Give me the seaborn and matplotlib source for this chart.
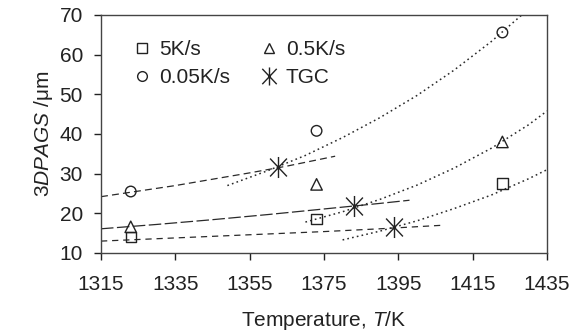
import matplotlib
matplotlib.use("Agg")
import matplotlib.pyplot as plt
from matplotlib.path import Path
from matplotlib.lines import Line2D
import seaborn as sns
import pandas as pd

# ---- data ----
T_exp = [1323, 1373, 1423]
size_5 = [14.0, 18.6, 27.5]
size_05 = [16.6, 27.3, 38.0]
size_005 = [25.5, 40.8, 65.6]
T_tgc = [1362.5, 1383.2, 1393.8]
size_tgc = [31.6, 21.8, 16.5]

# fitted trend lines
dash_005_T = [1315, 1325, 1335, 1345, 1355, 1365, 1378]
dash_005_y = [24.2, 25.6, 27.0, 28.6, 30.2, 31.9, 34.4]
dot_005_T = [1349, 1360, 1370, 1380, 1390, 1400, 1410, 1420, 1428.2]
dot_005_y = [27.0, 30.8, 34.6, 39.1, 44.1, 49.7, 56.1, 63.3, 70.0]

dash_05_T = [1315, 1330, 1345, 1360, 1375, 1390, 1398]
dash_05_y = [16.1, 17.2, 18.4, 19.7, 21.1, 22.5, 23.3]
dot_05_T = [1370, 1380, 1390, 1400, 1410, 1420, 1430, 1435]
dot_05_y = [17.8, 20.4, 23.5, 27.1, 31.4, 36.4, 42.3, 45.8]

dash_5_T = [1315, 1330, 1345, 1360, 1375, 1390, 1407]
dash_5_y = [13.0, 13.6, 14.2, 14.8, 15.4, 16.1, 17.0]
dot_5_T = [1380, 1390, 1400, 1410, 1420, 1430, 1435]
dot_5_y = [13.3, 15.5, 18.1, 21.2, 24.6, 28.7, 31.0]

labels = ["5K/s", "0.05K/s", "0.5K/s", "TGC"]
x_ticks = [1315, 1335, 1355, 1375, 1395, 1415, 1435]
y_ticks = [10, 20, 30, 40, 50, 60, 70]

# ---- style ----
sns.set_theme(style="ticks")
plt.rcParams["font.family"] = ["Liberation Sans", "DejaVu Sans"]
plt.rcParams["mathtext.fontset"] = "custom"
plt.rcParams["mathtext.it"] = "Liberation Sans:italic"
plt.rcParams["mathtext.rm"] = "Liberation Sans"
plt.rcParams["lines.scale_dashes"] = False

ink = "#222222"
line_c = "#2a2a2a"
fs = 15

fig = plt.figure(figsize=(5.8, 3.36), dpi=100)
ax = fig.add_axes([101 / 580, 1 - 253 / 336, 446 / 580, 238 / 336])

lw = 0.9
dot_style = (0, (1.2, 2.3))
curves = [
    (dash_005_T, dash_005_y, (0, (5.0, 3.0)), lw),
    (dot_005_T, dot_005_y, dot_style, 1.1),
    (dash_05_T, dash_05_y, (0, (9.0, 2.5)), lw),
    (dot_05_T, dot_05_y, dot_style, 1.1),
    (dash_5_T, dash_5_y, (0, (4.5, 3.5)), lw),
    (dot_5_T, dot_5_y, dot_style, 1.1),
]
for xs, ys, ls, w in curves:
    sns.lineplot(x=xs, y=ys, ax=ax, color=line_c, lw=w, linestyle=ls,
                 sort=False, estimator=None, legend=False)

star = Path([(0, -1), (0, 1), (-0.8, -0.85), (0.8, 0.85), (-0.8, 0.85), (0.8, -0.85)],
            [Path.MOVETO, Path.LINETO, Path.MOVETO, Path.LINETO, Path.MOVETO, Path.LINETO])

def pts(x, y, marker, s):
    sns.scatterplot(x=x, y=y, ax=ax, marker=marker, s=s,
                    facecolor="none", edgecolor=ink, linewidth=1.0,
                    legend=False, zorder=5)

pts(T_exp, size_5, "s", 55)
pts(T_exp, size_05, "^", 68)
pts(T_exp, size_005, "o", 58)
sns.scatterplot(x=T_tgc, y=size_tgc, ax=ax, marker=star, s=230, color=ink,
                edgecolor=ink, linewidth=1.0, legend=False, zorder=5)

ax.set_xlim(1315, 1435)
ax.set_ylim(10, 70)
ax.set_xticks(x_ticks)
ax.set_yticks(y_ticks)
ax.tick_params(axis="both", direction="out", length=5, width=1, color=ink,
               labelsize=fs, labelcolor=ink)
ax.tick_params(axis="x", pad=11)
ax.tick_params(axis="y", pad=8)
for sp in ax.spines.values():
    sp.set_visible(True)
    sp.set_color("#444444")
    sp.set_linewidth(1.0)

ax.set_xlabel("Temperature, $\\mathit{T}$/K", fontsize=fs, color=ink, labelpad=11)
ax.set_ylabel("$\\mathit{3DPAGS}$ /μm", fontsize=fs, color=ink, labelpad=3)

handles = [
    Line2D([], [], marker="s", ls="none", mfc="none", mec=ink, ms=7, mew=1.0),
    Line2D([], [], marker="o", ls="none", mfc="none", mec=ink, ms=7, mew=1.0),
    Line2D([], [], marker="^", ls="none", mfc="none", mec=ink, ms=7.5, mew=1.0),
    Line2D([], [], marker=star, ls="none", mfc=ink, mec=ink, ms=13, mew=1.0),
]
leg = ax.legend(handles, labels, ncol=2, frameon=False, loc="upper left",
                bbox_to_anchor=(0.05, 0.93), fontsize=fs, handlelength=1.0,
                handletextpad=0.3, columnspacing=1.4, labelspacing=0.45,
                borderaxespad=0)
for t in leg.get_texts():
    t.set_color(ink)

fig.savefig("out.png", dpi=100)
